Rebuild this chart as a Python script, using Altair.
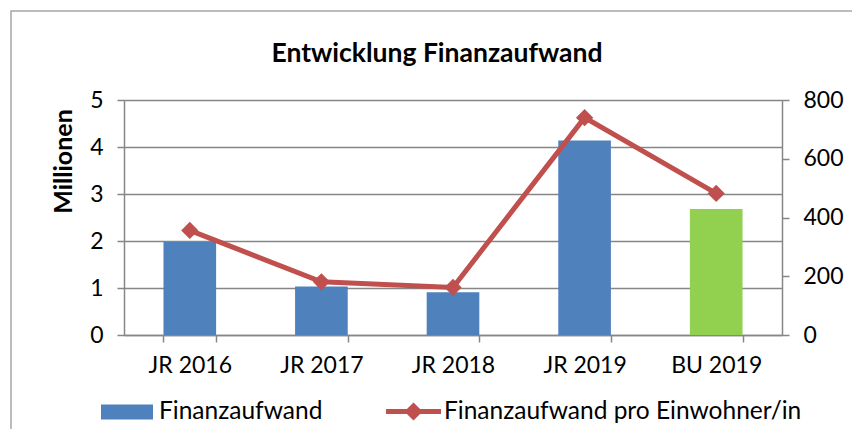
import altair as alt
import pandas as pd

# ---- data ----
kategorien = ["JR 2016", "JR 2017", "JR 2018", "JR 2019", "BU 2019"]
finanzaufwand_mio = [1.98, 1.03, 0.91, 4.14, 2.68]
pro_einwohner = [356, 181, 162, 740, 482]
typ = ["Finanzaufwand", "Finanzaufwand", "Finanzaufwand", "Finanzaufwand", "Budget"]
serie_linie = ["Finanzaufwand pro Einwohner/in"] * 5
links_ticks = [0, 1, 2, 3, 4, 5]
rechts_ticks = [0, 200, 400, 600, 800]

df = pd.DataFrame({
    "Kategorie": kategorien,
    "Finanzaufwand": finanzaufwand_mio,
    "ProEW": pro_einwohner,
    "Typ": typ,
    "Serie": serie_linie,
})

BLUE = "#4F81BD"
GREEN = "#92D050"
RED = "#C0504D"
GRID = "#868686"
FONT = "Lato"

x_enc = alt.X(
    "Kategorie:N",
    sort=kategorien,
    title=None,
    scale=alt.Scale(paddingInner=0.6, paddingOuter=0.3),
    axis=alt.Axis(
        labelAngle=0, tickBand="extent", domainColor=GRID, tickColor=GRID,
        tickSize=7, labelFontSize=23, labelFont=FONT, labelColor="black",
        labelPadding=12, domainWidth=1.5, tickWidth=1.5,
    ),
)

rect_path = "M-1,-0.288H1V0.288H-1Z"
line_path = "M-1,-0.09H1V0.09H-1Z M-0.33,0L0,-0.33L0.33,0L0,0.33Z"

bars = alt.Chart(df).mark_bar().encode(
    x=x_enc,
    y=alt.Y(
        "Finanzaufwand:Q",
        scale=alt.Scale(domain=[0, 5], nice=False),
        title="Millionen",
        axis=alt.Axis(
            values=links_ticks, grid=True, gridColor=GRID, gridWidth=1.5,
            domainColor=GRID, domainWidth=1.5, tickColor=GRID, tickWidth=1.5, tickSize=7,
            labelFontSize=23, labelFont=FONT, labelColor="black", labelPadding=14,
            titleFont=FONT, titleFontSize=25, titleFontWeight="bold", titleColor="black",
            titleX=-61, titleY=61, titleAngle=-90, titleAlign="center", titleBaseline="middle",
        ),
    ),
    color=alt.Color(
        "Typ:N",
        scale=alt.Scale(domain=["Finanzaufwand", "Budget"], range=[BLUE, GREEN]),
        legend=alt.Legend(
            values=["Finanzaufwand"], title=None, orient="none",
            legendX=-23, legendY=286, direction="horizontal",
            symbolType=rect_path, symbolSize=2704, symbolStrokeWidth=0,
            labelFont=FONT, labelFontSize=24.5, labelColor="black", labelOffset=6,
            labelLimit=600, padding=0,
        ),
    ),
)

y_right = alt.Y(
    "ProEW:Q",
    scale=alt.Scale(domain=[0, 800], nice=False),
    title=None,
    axis=alt.Axis(
        orient="right", values=rechts_ticks, grid=False,
        domainColor=GRID, domainWidth=1.5, tickColor=GRID, tickWidth=1.5, tickSize=7,
        labelFontSize=23, labelFont=FONT, labelColor="black", labelPadding=14,
    ),
)

line = alt.Chart(df).mark_line(color=RED, strokeWidth=5).encode(x=x_enc, y=y_right)

points = alt.Chart(df).mark_point(shape="diamond", filled=True, size=300, opacity=1).encode(
    x=x_enc,
    y=y_right,
    fill=alt.Fill(
        "Serie:N",
        scale=alt.Scale(range=[RED]),
        legend=alt.Legend(
            title=None, orient="none", legendX=262, legendY=284, direction="horizontal",
            symbolType=line_path, symbolSize=3025, symbolStrokeWidth=0,
            labelFont=FONT, labelFontSize=24.5, labelColor="black", labelOffset=3,
            labelLimit=600, padding=0,
        ),
    ),
)

frame = alt.Chart(pd.DataFrame({"f": [0]})).mark_rect(
    filled=False, stroke="#A6A6A6", strokeWidth=1.5, clip=False
).encode(
    x=alt.value(-113), x2=alt.value(800), y=alt.value(-89), y2=alt.value(400)
)

chart = alt.layer(
    frame, bars, alt.layer(line, points)
).resolve_scale(
    y="independent"
).properties(
    width=658,
    height=235,
    padding={"left": 116, "top": 92, "right": 70, "bottom": 94},
    autosize=alt.AutoSizeParams(type="none"),
    title=alt.TitleParams(
        "Entwicklung Finanzaufwand", font=FONT, fontSize=26.5, fontWeight="bold",
        color="black", anchor="middle", dx=-16, offset=-57,
    ),
).configure_view(stroke=None).configure(background="white")

chart.save("out.html", embed_options={"renderer": "svg", "actions": False})
